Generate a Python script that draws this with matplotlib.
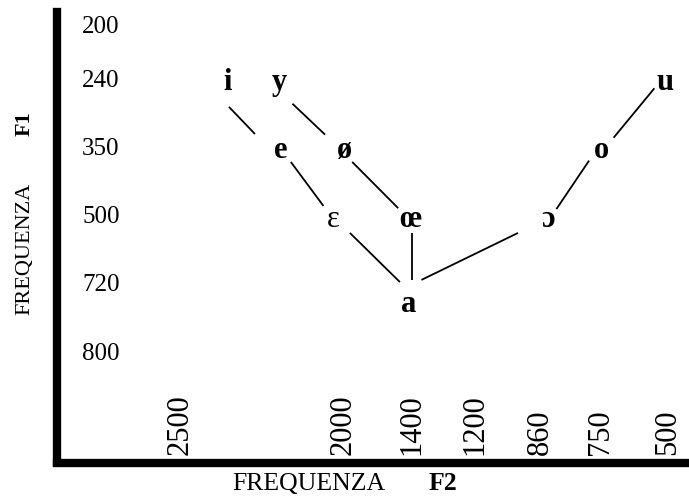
import numpy as np
import matplotlib
matplotlib.use("Agg")
import matplotlib.pyplot as plt

plt.rcParams["font.family"] = ["Liberation Serif", "DejaVu Serif"]

# axis ticks (the scales are not linear: each tick has its own slot in pixels)
f2_ticks = [2500, 2000, 1400, 1200, 860, 750, 500]
f1_ticks = [200, 240, 350, 500, 720, 800]
f2_slots = [180, 343, 412, 475, 540, 600, 668]
f1_slots = [25, 79, 147, 215, 283, 352]

# vowels, placed by (F2, F1)
vowels = ["i", "y", "u", "e", "ø", "o", "ε", "œ", "ɔ", "a"]
vowel_f2 = [2355, 2195, 510, 2190, 1985, 745, 2030, 1415, 845, 1425]
vowel_f1 = [245, 245, 245, 358, 358, 358, 515, 515, 515, 745]
vowel_bold = [True, True, True, True, True, True, False, True, True, True]

# connecting strokes (start / end in F2, F1)
seg_f2_from = [2350, 2155, 2160, 1920, 1400, 1940, 1370, 830, 700]
seg_f1_from = [285, 280, 383, 383, 558, 558, 710, 487, 335]
seg_f2_to = [2270, 2055, 2060, 1520, 1400, 1505, 975, 770, 550]
seg_f1_to = [329, 330, 480, 485, 710, 717, 558, 380, 255]


def piecewise(v, xp, fp):
    """linear interp through (xp, fp) with linear extrapolation at both ends"""
    v = np.asarray(v, dtype=float)
    s0 = (fp[1] - fp[0]) / (xp[1] - xp[0])
    s1 = (fp[-1] - fp[-2]) / (xp[-1] - xp[-2])
    return np.where(v < xp[0], fp[0] + (v - xp[0]) * s0,
                    np.where(v > xp[-1], fp[-1] + (v - xp[-1]) * s1,
                             np.interp(v, xp, fp)))


# F2 runs right-to-left, so the scale works on -F2 internally
def fwd_x(v):
    return piecewise(-np.asarray(v, dtype=float), [-t for t in f2_ticks], f2_slots)


def inv_x(p):
    return -piecewise(p, f2_slots, [-t for t in f2_ticks])


def fwd_y(v):
    return piecewise(v, f1_ticks, f1_slots)


def inv_y(p):
    return piecewise(p, f1_slots, f1_ticks)


W, H = 689, 496
x0, x1, y_top, y_bot = 57, 689, 12, 462.5
fig = plt.figure(figsize=(W / 100, H / 100), dpi=100)
ax = fig.add_axes([x0 / W, (H - y_bot) / H, (x1 - x0) / W, (y_bot - y_top) / H])
ax.set_xscale("function", functions=(fwd_x, inv_x))
ax.set_yscale("function", functions=(fwd_y, inv_y))
# limits given low->high in data; the decreasing scale puts the high F2 on the left
ax.set_xlim(float(inv_x(x1)), float(inv_x(x0)))
ax.set_ylim(float(inv_y(y_bot)), float(inv_y(y_top)))

for s in ["top", "right"]:
    ax.spines[s].set_visible(False)
for s in ["left", "bottom"]:
    ax.spines[s].set_linewidth(6)
    ax.spines[s].set_capstyle("projecting")

ax.minorticks_off()
ax.set_xticks(f2_ticks)
ax.set_xticklabels([str(v) for v in f2_ticks], rotation=90, fontsize=22, va="bottom")
ax.set_yticks(f1_ticks)
ax.set_yticklabels([str(v) for v in f1_ticks], fontsize=18, ha="left")
ax.tick_params(axis="x", length=0, pad=-5.4)
ax.tick_params(axis="y", length=0, pad=-18)

for a, b, c, d in zip(seg_f2_from, seg_f2_to, seg_f1_from, seg_f1_to):
    ax.plot([a, b], [c, d], color="black", lw=1.3, solid_capstyle="butt")

for lab, f2, f1, bold in zip(vowels, vowel_f2, vowel_f1, vowel_bold):
    ax.text(f2, f1, lab, ha="center", va="center", fontsize=22,
            fontweight="bold" if bold else "normal")

# axis titles
fig.text(25 / W, 1 - 249 / H, "FREQUENZA", rotation=90, ha="center", va="center", fontsize=16)
fig.text(25 / W, 1 - 124 / H, "F1", rotation=90, ha="center", va="center", fontsize=16,
         fontweight="bold")
fig.text(309 / W, 1 - 490 / H, "FREQUENZA", ha="center", va="baseline", fontsize=18.5)
fig.text(443 / W, 1 - 490 / H, "F2", ha="center", va="baseline", fontsize=18.5,
         fontweight="bold")

fig.savefig("out.png", dpi=100)
